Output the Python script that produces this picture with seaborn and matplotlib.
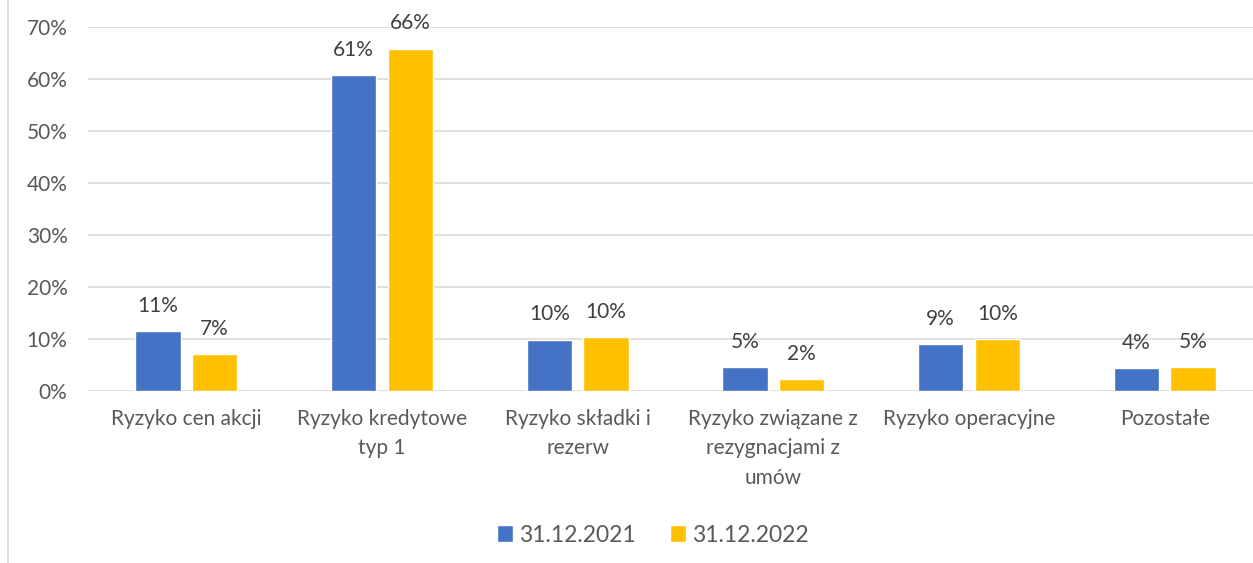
import seaborn as sns
import pandas as pd
import numpy as np
import matplotlib.pyplot as plt
from matplotlib.lines import Line2D


# dane (udział w SCR)
kategorie = ['Ryzyko cen akcji', 'Ryzyko kredytowe\ntyp 1', 'Ryzyko składki i\nrezerw',
             'Ryzyko związane z\nrezygnacjami z\numów', 'Ryzyko operacyjne', 'Pozostałe']
okresy = ['31.12.2021', '31.12.2022']
wart_2021 = [0.114, 0.607, 0.098, 0.046, 0.090, 0.044]
wart_2022 = [0.070, 0.658, 0.103, 0.022, 0.099, 0.046]
y_ticks = [0, 0.1, 0.2, 0.3, 0.4, 0.5, 0.6, 0.7]

df = pd.DataFrame({
    'kategoria': kategorie * 2,
    'okres': [okresy[0]] * len(kategorie) + [okresy[1]] * len(kategorie),
    'udzial': wart_2021 + wart_2022,
})

sns.set_style('white')
plt.rcParams['font.family'] = ['Lato', 'DejaVu Sans']

fig = plt.figure(figsize=(12.53, 5.63), dpi=100)
ax = fig.add_axes([88.4 / 1253, 172.3 / 563, 1174.2 / 1253, 364 / 563])

sns.barplot(data=df, x='kategoria', y='udzial', hue='okres',
            palette=['#4472C4', '#FFC000'], width=0.58, gap=0.2,
            saturation=1, ax=ax)

ax.set_ylim(0, 0.7)
ax.set_xlim(-0.5, len(kategorie) - 0.5)
ax.set_yticks(y_ticks)
ax.set_yticklabels([f'{t * 100:.0f}%' for t in y_ticks])
ax.yaxis.grid(True, color='#D9D9D9', linewidth=1.2)
ax.set_axisbelow(True)
for s in ax.spines.values():
    s.set_visible(False)
ax.tick_params(axis='y', length=0, pad=15, labelsize=15, labelcolor='#595959')
ax.tick_params(axis='x', length=0, pad=13, labelsize=15, labelcolor='#595959')
for lbl in ax.get_xticklabels():
    lbl.set_linespacing(1.6)
    lbl.set_va('top')
ax.set_xlabel('')
ax.set_ylabel('')

# etykiety danych
for cont in ax.containers:
    ax.bar_label(cont, labels=[f'{b.get_height() * 100:.0f}%' for b in cont],
                 padding=11, fontsize=15, color='#404040')

handles, labels = ax.get_legend_handles_labels()
ax.get_legend().remove()
fig.legend(handles, labels, loc='center', bbox_to_anchor=(653 / 1253, 28 / 563),
           ncol=2, frameon=False, fontsize=16.5, labelcolor='#595959',
           handlelength=0.7, handleheight=0.7, handletextpad=0.25, columnspacing=1.5)

# ramka wykresu z lewej
fig.add_artist(Line2D([7.5 / 1253, 7.5 / 1253], [0, 1], color='#D9D9D9', linewidth=1.2,
                      transform=fig.transFigure))

plt.savefig('out.png', dpi=100)
